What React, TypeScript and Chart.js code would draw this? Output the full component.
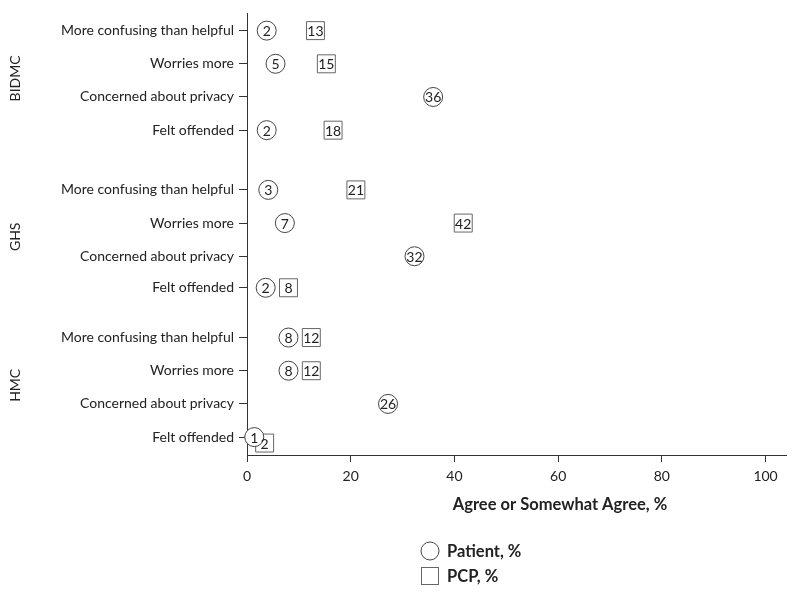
import React, { useEffect, useRef } from "react";
import { Chart, registerables } from "chart.js";

Chart.register(...registerables);

const groups = ["BIDMC", "GHS", "HMC"];
const items = [
  "More confusing than helpful",
  "Worries more",
  "Concerned about privacy",
  "Felt offended",
];
// row positions on the (reversed) y scale, 4 rows per site with gaps between sites
const rowPositions = [0, 1, 2, 3, 4.8, 5.8, 6.8, 7.75, 9.25, 10.25, 11.25, 12.25];

// Patient, % (labels) and where the marker sits in the picture
const patientValues = [2, 5, 36, 2, 3, 7, 32, 2, 8, 8, 26, 1];
const patientPositions = [3.8, 5.5, 35.9, 3.8, 4.1, 7.3, 32.3, 3.6, 8.0, 8.0, 27.2, 1.4];
// PCP, % (labels) and positions
const pcpValues = [13, 15, null, 18, 21, 42, null, 8, 12, 12, null, 2];
const pcpPositions = [13.2, 15.3, null, 16.6, 21, 41.7, null, 8.0, 12.4, 12.4, null, 3.4];
const pcpRowShift = [0, 0, 0, 0, 0, 0, 0, 0, 0, 0, 0, 0.18];

const xTicks = [0, 20, 40, 60, 80, 100];
const xTitle = "Agree or Somewhat Agree, %";
const legendLabels = ["Patient, %", "PCP, %"];

const FONT = "Lato, 'Open Sans', 'DejaVu Sans', sans-serif";
const TEXT = "#222";
const AXIS = "#333";

export default function App() {
  const ref = useRef<HTMLCanvasElement | null>(null);

  useEffect(() => {
    document.body.style.margin = "0";
    const canvas = ref.current;
    if (!canvas) return;

    const patientData = patientPositions.map((x, i) => ({
      x,
      y: rowPositions[i],
      label: patientValues[i],
    }));
    const pcpData: any[] = [];
    pcpPositions.forEach((x, i) => {
      if (x !== null && pcpValues[i] !== null) {
        pcpData.push({ x, y: rowPositions[i] + pcpRowShift[i], label: pcpValues[i] });
      }
    });

    const labelPlugin = {
      id: "markerLabels",
      afterDatasetsDraw(chart: any) {
        const ctx = chart.ctx;
        ctx.save();
        ctx.font = `14px ${FONT}`;
        ctx.fillStyle = TEXT;
        ctx.textAlign = "center";
        ctx.textBaseline = "middle";
        chart.data.datasets.forEach((ds: any, di: number) => {
          const meta = chart.getDatasetMeta(di);
          meta.data.forEach((el: any, i: number) => {
            const raw = ds.data[i];
            ctx.fillText(String(raw.label), el.x, el.y + 1);
          });
        });
        ctx.restore();
      },
    };

    const decorPlugin = {
      id: "decor",
      afterDraw(chart: any) {
        const ctx = chart.ctx;
        const ys = chart.scales.y;
        const area = chart.chartArea;
        ctx.save();
        // group labels (rotated)
        ctx.font = `14px ${FONT}`;
        ctx.fillStyle = TEXT;
        ctx.textAlign = "center";
        ctx.textBaseline = "middle";
        groups.forEach((g, gi) => {
          const top = ys.getPixelForValue(rowPositions[gi * 4]);
          const bot = ys.getPixelForValue(rowPositions[gi * 4 + 3]);
          ctx.save();
          ctx.translate(15, (top + bot) / 2 - 2);
          ctx.rotate(-Math.PI / 2);
          ctx.fillText(g, 0, 0);
          ctx.restore();
        });
        // x axis title
        ctx.font = `bold 16.5px ${FONT}`;
        ctx.fillText(xTitle, 560, area.bottom + 50);
        // legend
        const lx = 430;
        const ly1 = 551;
        const ly2 = 576;
        ctx.strokeStyle = "#444";
        ctx.lineWidth = 1;
        ctx.fillStyle = "#fff";
        ctx.beginPath();
        ctx.arc(lx, ly1, 9, 0, Math.PI * 2);
        ctx.fill();
        ctx.stroke();
        ctx.strokeStyle = "#666";
        ctx.strokeRect(lx - 8.5, ly2 - 8.5, 17, 17);
        ctx.fillStyle = TEXT;
        ctx.textAlign = "left";
        ctx.font = `bold 16.5px ${FONT}`;
        ctx.fillText(legendLabels[0], 447, ly1 + 1);
        ctx.fillText(legendLabels[1], 447, ly2 + 1);
        ctx.restore();
      },
    };

    const chart = new Chart(canvas, {
      type: "scatter",
      data: {
        datasets: [
          {
            label: legendLabels[0],
            data: patientData,
            pointStyle: "circle",
            pointRadius: 9.5,
            pointHoverRadius: 9.5,
            backgroundColor: "#fff",
            borderColor: "#444",
            borderWidth: 1,
            clip: false,
          } as any,
          {
            label: legendLabels[1],
            data: pcpData,
            pointStyle: "rect",
            pointRadius: 12.7,
            pointHoverRadius: 12.7,
            backgroundColor: "#fff",
            borderColor: "#666",
            borderWidth: 1,
            clip: false,
          } as any,
        ],
      },
      options: {
        animation: false,
        responsive: false,
        events: [],
        layout: { padding: { top: 10, right: 11, left: 0, bottom: 0 } },
        plugins: {
          legend: { display: false },
          tooltip: { enabled: false },
        },
        scales: {
          x: {
            type: "linear",
            min: 0,
            max: 104,
            afterBuildTicks(scale: any) {
              scale.ticks = xTicks.map((v) => ({ value: v }));
            },
            afterFit(scale: any) {
              scale.height = 142;
            },
            grid: {
              drawOnChartArea: false,
              drawTicks: true,
              tickLength: 7,
              color: AXIS,
            },
            border: { display: true, color: AXIS, width: 1 },
            ticks: {
              font: { family: FONT, size: 14 },
              color: TEXT,
              padding: 6,
              maxRotation: 0,
            },
          },
          y: {
            type: "linear",
            reverse: true,
            min: -0.51,
            max: 12.79,
            afterBuildTicks(scale: any) {
              scale.ticks = rowPositions.map((v) => ({ value: v }));
            },
            afterFit(scale: any) {
              scale.width = 247;
            },
            grid: {
              drawOnChartArea: false,
              drawTicks: true,
              tickLength: 8,
              color: AXIS,
            },
            border: { display: true, color: AXIS, width: 1 },
            ticks: {
              font: { family: FONT, size: 14 },
              color: TEXT,
              padding: 5,
              autoSkip: false,
              callback: (_v: any, i: number) => items[i % 4],
            },
          },
        },
      },
      plugins: [labelPlugin, decorPlugin],
    });

    return () => chart.destroy();
  }, []);

  return (
    <div style={{ position: "relative", width: 800, height: 597, background: "#fff" }}>
      <canvas ref={ref} width={800} height={597} style={{ display: "block", width: 800, height: 597 }} />
    </div>
  );
}
